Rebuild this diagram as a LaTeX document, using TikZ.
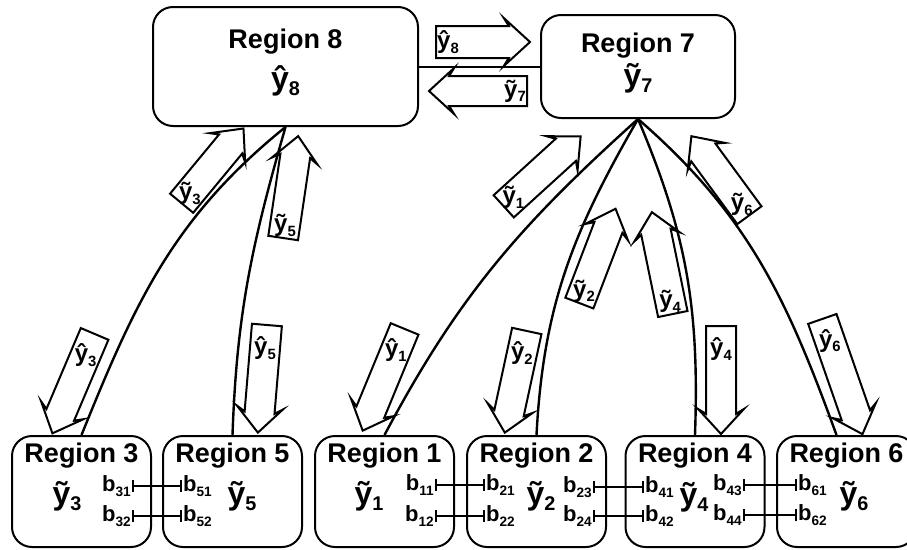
\documentclass[tikz,border=0pt]{standalone}
\usepackage{fontspec}
\setmainfont{Liberation Sans}
\usepackage{graphicx}
\usepackage{tikz}
\usetikzlibrary{positioning,shapes.arrows,arrows.meta,calc}

\newcommand\lo[1]{\raisebox{-0.2em}{\scalebox{0.62}{#1}}}
\newcommand\yt[1]{ỹ\lo{#1}}
\newcommand\yh[1]{ŷ\lo{#1}}
\newcommand\bv[1]{b\lo{#1}}

\begin{document}
\begin{tikzpicture}[x=1pt, y=-1pt,
    region/.style={draw, line width=2pt, rounded corners=20pt, minimum width=139pt, minimum height=111pt, inner sep=0pt},
    rtitle/.style={font=\bfseries\fontsize{27}{28}\selectfont, anchor=base},
    est/.style={font=\bfseries\fontsize{32}{32}\selectfont, anchor=base},
    bnd/.style={font=\bfseries\fontsize{22}{22}\selectfont, inner sep=1pt},
    flow/.style={single arrow, draw, line width=2pt, inner xsep=0pt, inner ysep=14pt, minimum width=0pt,
        single arrow head extend=8pt, single arrow tip angle=85, single arrow head indent=5pt, anchor=tail},
    flowlbl/.style={font=\bfseries\fontsize{24}{24}\selectfont, inner sep=0pt},
    link/.style={line width=2.4pt},
    bline/.style={line width=1.8pt, {Bar[width=12pt]}-{Bar[width=12pt]}}]
    \useasboundingbox (0,0) rectangle (907,549);

    \node[region, minimum width=265pt, minimum height=119pt] (r8) at (285.5,66.5) {};
    \node[region, minimum width=194pt, minimum height=103pt] (r7) at (638,66.5) {};
    \node[region] (r3) at (81.5,491.5) {};
    \node[region] (r5) at (232.5,491.5) {};
    \node[region] (r1) at (384.5,491.5) {};
    \node[region] (r2) at (536.5,491.5) {};
    \node[region] (r4) at (695,491.5) {};
    \node[region] (r6) at (846.5,491.5) {};

    \node[rtitle] (t8) at (285.5,48) {Region 8};
    \node[rtitle] (t7) at (638,52) {Region 7};
    \node[rtitle] (t3) at (81.5,462) {Region 3};
    \node[rtitle] (t5) at (232.5,462) {Region 5};
    \node[rtitle] (t1) at (384.5,462) {Region 1};
    \node[rtitle] (t2) at (536.5,462) {Region 2};
    \node[rtitle] (t4) at (695,462) {Region 4};
    \node[rtitle] (t6) at (846.5,462) {Region 6};

    \node[est] (e8) at (285.5,89) {\yh{8}};
    \node[est] (e7) at (638,86) {\yt{7}};
    \node[est] (e3) at (67,504) {\yt{3}};
    \node[est] (e5) at (242,504) {\yt{5}};
    \node[est] (e1) at (369,504) {\yt{1}};
    \node[est] (e2) at (541,504) {\yt{2}};
    \node[est] (e4) at (694,505) {\yt{4}};
    \node[est] (e6) at (854,504) {\yt{6}};

    \node[bnd, anchor=east] (b31) at (132,486) {\bv{31}};
    \node[bnd, anchor=east] (b32) at (132,516) {\bv{32}};
    \node[bnd, anchor=west] (b51) at (182,486) {\bv{51}};
    \node[bnd, anchor=west] (b52) at (182,516) {\bv{52}};
    \node[bnd, anchor=east] (b11) at (435,485) {\bv{11}};
    \node[bnd, anchor=east] (b12) at (435,516) {\bv{12}};
    \node[bnd, anchor=west] (b21) at (485,485) {\bv{21}};
    \node[bnd, anchor=west] (b22) at (485,516) {\bv{22}};
    \node[bnd, anchor=east] (b23) at (593,487) {\bv{23}};
    \node[bnd, anchor=east] (b24) at (593,516) {\bv{24}};
    \node[bnd, anchor=west] (b41) at (644,487) {\bv{41}};
    \node[bnd, anchor=west] (b42) at (644,516) {\bv{42}};
    \node[bnd, anchor=east] (b43) at (743,485) {\bv{43}};
    \node[bnd, anchor=east] (b44) at (743,515) {\bv{44}};
    \node[bnd, anchor=west] (b61) at (797,485) {\bv{61}};
    \node[bnd, anchor=west] (b62) at (797,515) {\bv{62}};

    \draw[bline] (b31.east) -- (b51.west);
    \draw[bline] (b32.east) -- (b52.west);
    \draw[bline] (b11.east) -- (b21.west);
    \draw[bline] (b12.east) -- (b22.west);
    \draw[bline] (b23.east) -- (b41.west);
    \draw[bline] (b24.east) -- (b42.west);
    \draw[bline] (b43.east) -- (b61.west);
    \draw[bline] (b44.east) -- (b62.west);

    \draw[line width=2pt] (r8.east) -- (r7.west);
    \draw[link] (r3.north) to[out=68, in=-141] (r8.south);
    \draw[link] (r5.north) to[out=88, in=-106] (r8.south);
    \draw[link] (r1.north) to[out=62, in=-138] (r7.south);
    \draw[link] (r2.north) to[out=87, in=-120] (r7.south);
    \draw[link] (r4.north) to[out=88, in=-67] (r7.south);
    \draw[link] ([xshift=-10pt]r6.north) to[out=110, in=-41] (r7.south);

    \node[flow, inner ysep=15pt, minimum height=94pt] (f8h) at (435,42) {};
    \node[flow, rotate=180, minimum height=98pt] (f7t) at (528,91) {};
    \node[flow, rotate=50.4, minimum height=97pt] (f3t) at (181,204) {};
    \node[flow, rotate=-113, minimum height=108pt] (f3h) at (95,333) {};
    \node[flow, rotate=81.6, minimum height=103pt] (f5t) at (283,239) {};
    \node[flow, rotate=-94.8, minimum height=108pt] (f5h) at (267,324) {};
    \node[flow, rotate=42.3, minimum height=104pt] (f1t) at (503,207) {};
    \node[flow, rotate=-112.4, minimum height=110pt] (f1h) at (405,328) {};
    \node[flow, rotate=69, minimum height=101pt] (f2t) at (579,304) {};
    \node[flow, rotate=-102.2, minimum height=104pt] (f2h) at (527,330) {};
    \node[flow, rotate=101.6, minimum height=104pt] (f4t) at (673,315) {};
    \node[flow, rotate=-90, minimum height=108pt] (f4h) at (721,325) {};
    \node[flow, rotate=126.3, minimum height=98pt] (f6t) at (750,216) {};
    \node[flow, rotate=-70.8, minimum height=122pt] (f6h) at (822,318) {};

    \node[flowlbl] (l8h) at ($(f8h.tail)!13pt!(f8h.tip)$) {\yh{8}};
    \node[flowlbl] (l7t) at ($(f7t.tail)!13pt!(f7t.tip)$) {\yt{7}};
    \node[flowlbl] (l3t) at ($(f3t.tail)!14pt!(f3t.tip)$) {\yt{3}};
    \node[flowlbl] (l3h) at ($(f3h.tail)!24pt!(f3h.tip)$) {\yh{3}};
    \node[flowlbl] (l5t) at ($(f5t.tail)!14pt!(f5t.tip)$) {\yt{5}};
    \node[flowlbl] (l5h) at ($(f5h.tail)!24pt!(f5h.tip)$) {\yh{5}};
    \node[flowlbl] (l1t) at ($(f1t.tail)!14pt!(f1t.tip)$) {\yt{1}};
    \node[flowlbl] (l1h) at ($(f1h.tail)!24pt!(f1h.tip)$) {\yh{1}};
    \node[flowlbl] (l2t) at ($(f2t.tail)!14pt!(f2t.tip)$) {\yt{2}};
    \node[flowlbl] (l2h) at ($(f2h.tail)!24pt!(f2h.tip)$) {\yh{2}};
    \node[flowlbl] (l4t) at ($(f4t.tail)!14pt!(f4t.tip)$) {\yt{4}};
    \node[flowlbl] (l4h) at ($(f4h.tail)!24pt!(f4h.tip)$) {\yh{4}};
    \node[flowlbl] (l6t) at ($(f6t.tail)!14pt!(f6t.tip)$) {\yt{6}};
    \node[flowlbl] (l6h) at ($(f6h.tail)!24pt!(f6h.tip)$) {\yh{6}};
\end{tikzpicture}
\end{document}
